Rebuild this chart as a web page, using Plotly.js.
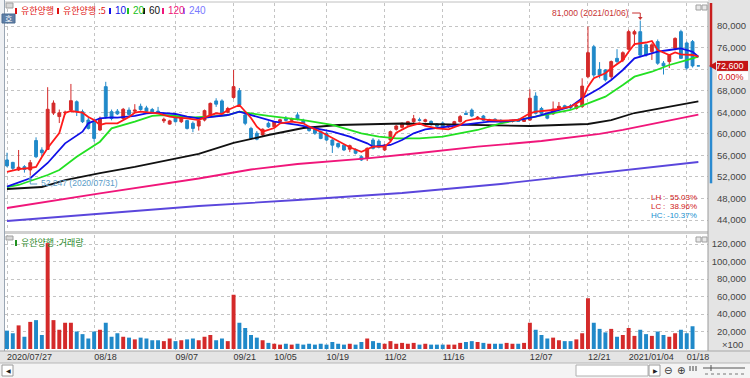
<!DOCTYPE html>
<html><head><meta charset="utf-8">
<script src="https://cdn.plot.ly/plotly-3.0.1.min.js"></script>
<style>html,body{margin:0;padding:0;background:#fff;}#chart{width:750px;height:378px;}</style>
</head><body><div id="chart"></div>
<script>
// ---------------- DATA ----------------
const tickIdx = [0,15,29,39,46,55,65,75,90,100,107,117];
const tickLabels = ['2020/07/27','08/18','09/07','09/21','10/05','10/19','11/02','11/16','12/07','12/21','2021/01/04','01/18'];

const open  = [55150,54700,53300,53900,53300,58750,57000,57100,63850,63200,
               63900,64400,65950,64100,62550,62250,60700,68750,64100,64200,
               62850,64400,64200,65100,64800,64500,64200,62400,61800,63000,
               62250,62450,61950,61450,62550,63500,66100,66100,64000,66750,
               68000,63500,61000,60100,59800,61950,61300,62300,62800,62500,
               63500,62500,61200,60800,60400,60100,58850,58200,57900,57150,
               57100,55750,55450,58850,58650,57000,58850,60850,61200,61650,
               62250,62600,62300,62300,61800,62000,61300,61600,62250,63800,
               64400,62800,63300,62400,62700,62500,62200,62300,62600,62300,
               62550,67000,64700,63500,63700,64800,65200,65200,64700,65050,
               70600,76150,71950,71850,70600,74000,73700,75700,78500,78950,
               76500,75250,77100,73100,73400,75850,78950,76850,77100,72600];
const high  = [56500,54800,57000,54200,55150,59350,57500,68650,66200,64500,
               64300,69250,66200,64500,63000,62500,63200,69650,64500,64600,
               64800,64900,65500,65600,65200,64800,65000,63000,62600,63400,
               63100,62600,62300,62600,64500,65800,66600,66400,65000,71850,
               68500,64000,61300,60500,61000,62300,62400,62800,63300,63000,
               64000,62800,61500,61000,60600,60300,59000,58400,58100,58000,
               57300,56000,57500,59200,59000,58100,60600,61600,62100,62400,
               63500,63000,62800,62500,62000,62300,61800,62400,63500,64300,
               64700,63300,63500,62800,62900,62700,62500,62600,62900,62800,
               68250,67700,65000,63700,66000,65900,65400,65500,65800,70300,
               79900,76500,73300,72000,73600,75700,75300,79300,79300,81000,
               76700,76800,77500,73500,74700,77900,79300,77100,77400,72600];
const low   = [53800,53300,53100,52800,52247,55500,55800,57000,63500,62000,
               63500,64000,63300,62000,60800,58550,60500,62800,62500,63500,
               62600,63400,64000,64300,64000,63800,63900,62000,61700,62100,
               62000,60800,60300,60600,62300,63300,65000,63600,63800,66500,
               65100,61600,58900,58800,59400,61100,61100,61900,62300,62300,
               62500,61800,60400,59800,59000,58700,56450,57300,56800,56600,
               56200,54950,54950,57100,57300,56800,58700,60600,61000,61500,
               62000,62300,62100,61500,61200,61000,61100,61500,62100,63500,
               63100,62600,62300,62200,62300,62100,62000,62100,62200,62200,
               62400,63600,63600,62700,63500,64300,64700,64600,64500,64800,
               70300,70500,70300,69700,70200,73000,73300,75500,76300,74200,
               74300,73700,72800,71000,72200,75500,73900,71900,72300,72600];
const close = [54050,53600,53800,53400,54650,55750,56500,64550,65700,63900,
               64000,66150,64100,62250,61000,59150,62850,63200,62850,63700,
               64550,63600,64400,64500,64200,64000,64100,62700,62400,62250,
               63000,61000,61000,62400,64300,65650,65500,63850,64700,68750,
               65350,61950,59150,59000,60850,61300,62200,62600,62500,62800,
               62700,62000,60600,60100,59150,58850,57900,57600,57000,57800,
               56400,55150,57300,57300,57500,57900,60400,61450,61950,62250,
               62800,62500,62600,61700,61400,61300,61600,62250,63200,63600,
               63300,63100,62500,62600,62400,62200,62300,62400,62300,62600,
               66600,63800,63800,62900,64600,65100,64900,64800,65300,68850,
               75050,70900,70900,70000,73400,73400,75050,78950,78950,74600,
               74600,76500,73100,72600,74600,77700,74000,72200,72600,72600];
const volume = [21000,18000,27000,14000,31000,33000,16000,121000,33000,22000,
                30000,30000,20000,17000,12000,20000,22000,30000,14000,18000,
                14000,13000,11000,13000,12000,10000,10000,9000,12000,9000,
                10000,11000,12000,10000,14000,16000,10000,12000,9000,62000,
                30000,24000,16000,13000,10000,7000,6000,5000,6000,5000,
                6000,5000,6000,5000,6000,5000,8000,6000,5000,6000,
                5000,8000,12000,9000,7000,6000,9000,6000,7000,6000,
                7000,5000,6000,5000,5000,5000,5000,5000,7000,8000,
                9000,8000,7000,6000,6000,6000,7000,6000,6000,7000,
                30000,22000,16000,12000,13000,10000,9000,9000,11000,18000,
                58000,30000,23000,19000,23000,14000,16000,24000,15000,22000,
                17000,15000,20000,16000,14000,18000,22000,18000,26000,0];

// moving averages (candle index, price)
const ma5x = [0,2,4,5,6,7,9,10,11,13,14,15,16,17,19,21,22,23,26,28,29,31,33,34,36,37,38,40,42,43,44,46,47,49,51,52,54,56,58,59,61,62,63,65,66,67,69,71,72,74,76,78,79,81,83,85,88,90,91,94,97,99,100,101,103,104,106,107,108,110,111,112,114,115,116,118,119];
const ma5  = [52920,53470,53660,53850,55700,57370,60150,63860,64230,63920,63120,62560,61640,61950,61950,63120,63920,64100,63810,63180,63060,62880,62560,63060,63810,63680,64420,65350,62930,61320,60390,61080,61950,62250,61950,61320,60390,59170,58110,57500,56680,57130,57610,57610,58540,60210,61320,61950,61450,61020,60840,61640,62430,62880,62560,62430,62560,63810,64100,64420,65030,66270,68740,70300,71230,72150,73690,75230,76660,76940,77220,75550,74620,75090,74750,74620,74300];
const ma10x = [0,4,7,10,13,14,16,18,19,22,24,26,29,31,33,35,38,40,43,46,50,53,56,59,62,63,66,68,70,72,75,78,81,83,85,88,91,94,97,99,102,104,106,108,110,112,114,116,118,119];
const ma10  = [50200,51750,54590,58240,60390,61950,62880,63060,62990,63310,63810,63920,63680,63180,62880,63180,63490,64100,63180,62250,61640,61020,60390,59470,58240,57610,57930,58850,60100,60840,61210,61640,62060,62250,62250,62560,63180,64100,65030,66590,68440,69980,71840,74010,74620,75230,75550,75860,75230,74300];
const ma20x = [0,2,4,7,9,12,16,18,22,25,27,29,32,35,38,40,45,51,56,61,64,67,71,75,78,81,85,91,97,100,103,106,108,111,114,117,119];
const ma20  = [50130,50510,51250,52360,53290,55760,58540,61020,62250,63310,63490,63310,63060,63180,63490,64100,63310,62560,61640,60100,59470,59170,59170,59470,60100,60710,61950,63180,64420,65660,66890,69060,70600,71520,72770,73690,74310];
const ma60x = [0,6,10,16,22,28,33,39,45,51,57,68,80,90,100,104,108,114,119];
const ma60  = [49760,50130,51430,52730,53850,55140,56260,58300,59780,61080,61640,61910,61730,61450,61820,62560,63860,64980,66000];
const ma120x = [0,16,33,42,50,62,71,81,92,102,106,111,119];
const ma120  = [46240,48970,51710,53380,54400,55460,56440,57610,58670,59970,60710,61820,63580];
const ma240x = [0,16,33,50,68,85,102,119];
const ma240  = [43830,45130,46610,47720,49020,50690,52730,54770];

const yearHighLabel = '81,000 (2021/01/06)', yearHighIdx = 109;
const yearLowLabel = '52,247 (2020/07/31)', yearLowIdx = 4;
const statNames = ['LH','LC','HC'];
const statValues = ['55.03%','38.96%','-10.37%'];
const changeText = '0.00%';
const priceTicks = [44000,48000,52000,56000,60000,64000,68000,72000,76000,80000];
const volTicks = [20000,40000,60000,80000,100000,120000];
const legendNames = ['유한양행','유한양행 :5','10','20','60','120','240'];
const volLegend = '유한양행 :거래량';

// ---------------- STYLE / GEOMETRY ----------------
const W=750, H=378, L=5, R=0, T=3, B=28;
const PW=W-L-R, PH=H-T-B;
const xp = px => (px-L)/PW;
const yp = py => (H-B-py)/PH;
const SANS = '"Liberation Sans",Arial,sans-serif';
const KR = '"Noto Sans CJK KR","Noto Sans CJK SC",sans-serif';
const RED='#d42a2a', BLUE='#2089c9';
const C5='#ff1a1a', C10='#1010e8', C20='#22e022', C60='#111111', C120='#f0167a', C240='#5a46dc';
const fmt = v => v.toLocaleString('en-US');

const idx = close.map((_,i)=>i);
const lastClose = close[close.length-1];
const lowerLimit = Math.round(lastClose*0.7);

const traces = [];
function ma(x,y,c){ traces.push({type:'scatter',mode:'lines',x:x,y:y,line:{color:c,width:1.8},hoverinfo:'skip',showlegend:false}); }
ma(ma240x,ma240,C240); ma(ma120x,ma120,C120); ma(ma60x,ma60,C60);
traces.push({type:'candlestick',x:idx,open:open,high:high,low:low,close:close,
  increasing:{line:{color:RED,width:1},fillcolor:RED},
  decreasing:{line:{color:BLUE,width:1},fillcolor:BLUE},
  whiskerwidth:0,hoverinfo:'skip',showlegend:false});
ma(ma20x,ma20,C20); ma(ma10x,ma10,C10); ma(ma5x,ma5,C5);
traces.push({type:'bar',x:idx,y:volume,yaxis:'y2',width:0.68,
  marker:{color:close.map((c,i)=>c>open[i]?RED:BLUE),line:{width:0}},hoverinfo:'skip',showlegend:false});

const xd1 = 703/PW;
const shapes=[], ann=[];
function rect(x0,y0,x1,y1,fill,lc,lw,layer){shapes.push({type:'rect',xref:'paper',yref:'paper',x0:xp(x0),x1:xp(x1),y0:yp(y1),y1:yp(y0),fillcolor:fill,line:{color:lc||fill,width:lw||0},layer:layer||'above'});}
function line(x0,y0,x1,y1,c,w,dash){shapes.push({type:'line',xref:'paper',yref:'paper',x0:xp(x0),x1:xp(x1),y0:yp(y0),y1:yp(y1),line:{color:c,width:w||1,dash:dash||'solid'},layer:'above'});}
function text(x,y,t,c,size,anchor,fam){ann.push({xref:'paper',yref:'paper',x:xp(x),y:yp(y),text:t,showarrow:false,xanchor:anchor||'left',yanchor:'middle',font:{family:fam||SANS,size:size||10,color:c}});}

// background strips
rect(708,0,750,351,'#e4e4e4',null,0,'below');
rect(0,351,750,363,'#e4e4e4',null,0,'below');
rect(0,363,750,378,'#f4f4f4',null,0,'below');
rect(0,0,5,351,'#eef0f3',null,0,'below');
line(4.5,0,4.5,351,'#9aa6b4',1);
line(5,2,708,2,'#c0c0c0',1);
rect(5,231,708,234,'#d0d0d0');
line(708,2,708,351,'#9a9a9a',1);
line(0,351,750,351,'#a8a8a8',1);
line(0,363,750,363,'#b8b8b8',1);
// small window icons
rect(6,3,13,8,'#d8d8d8','#a0a0a0',1); rect(6,236,13,240,'#d8d8d8','#a0a0a0',1);
rect(696,5,701,10,'#e8e8e8','#a0a0a0',1); rect(702,5,707,10,'#e8e8e8','#a0a0a0',1);
rect(696,237,701,242,'#e8e8e8','#a0a0a0',1); rect(702,237,707,242,'#e8e8e8','#a0a0a0',1);
// "호" button
rect(2,14,15,23,'#5f80a8','#4a6a90',1);
text(8.5,18.5,'호','#ffffff',8,'center',KR);

// legend
const legColors=['#e01010','#e01010',C10,'#20c020',C60,C120,'#7a7aff'];
const legX=[15,57,109,127,143,162,183];
legendNames.forEach((n,i)=>{ rect(legX[i],8,legX[i]+2,14,legColors[i]); text(legX[i]+4,11,n,legColors[i],i<2?9:10,'left',i<2?KR:SANS); });
rect(15,240,17,246,'#209020'); text(19,243,volLegend,'#2a8a2a',9,'left',KR);

// right axis markers: upper / lower price limit bars
shapes.push({type:'line',xref:'paper',yref:'y',x0:xp(711),x1:xp(711),y0:lastClose,y1:84267,line:{color:'#c81e1e',width:2.5},layer:'above'});
shapes.push({type:'line',xref:'paper',yref:'y',x0:xp(711),x1:xp(711),y0:lowerLimit,y1:lastClose,line:{color:'#2a8ad0',width:2.5},layer:'above'});
// current price tag (covers the tick label beneath it)
const yTag = 26 + (80000-lastClose)/185.5;
rect(717,yTag-5,748,yTag+5,'#c41414');
text(746,yTag,fmt(lastClose),'#ffffff',9,'right');
rect(717,yTag+5.5,748,yTag+14,'#ffffff');
text(746,yTag+11,changeText,'#d01010',9,'right');
shapes.push({type:'path',xref:'paper',yref:'paper',path:`M ${xp(709)} ${yp(yTag)} L ${xp(716)} ${yp(yTag-4)} L ${xp(716)} ${yp(yTag+4)} Z`,fillcolor:'#c41414',line:{width:0},layer:'above'});

// high / low annotations
ann.push({xref:'x',yref:'paper',x:yearHighIdx-1.6,y:yp(13),text:yearHighLabel,showarrow:false,xanchor:'right',yanchor:'middle',font:{family:SANS,size:8.5,color:'#c83232'}});
shapes.push({type:'line',xref:'x',yref:'paper',x0:yearHighIdx-1.4,x1:yearHighIdx,y0:yp(13),y1:yp(13),line:{color:'#c83232',width:1},layer:'above'});
shapes.push({type:'line',xref:'x',yref:'paper',x0:yearHighIdx,x1:yearHighIdx,y0:yp(13),y1:yp(18),line:{color:'#c83232',width:1},layer:'above'});
shapes.push({type:'path',xref:'paper',yref:'paper',path:`M ${xp(638)} ${yp(17)} L ${xp(642.6)} ${yp(17)} L ${xp(640.3)} ${yp(20)} Z`,fillcolor:'#c83232',line:{width:0},layer:'above'});
ann.push({xref:'x',yref:'paper',x:yearLowIdx+1.5,y:yp(183),text:yearLowLabel,showarrow:false,xanchor:'left',yanchor:'middle',font:{family:SANS,size:8.5,color:'#5a9cc8'}});
shapes.push({type:'line',xref:'x',yref:'paper',x0:yearLowIdx,x1:yearLowIdx,y0:yp(178),y1:yp(184),line:{color:'#5a9cc8',width:1},layer:'above'});
shapes.push({type:'line',xref:'x',yref:'paper',x0:yearLowIdx,x1:yearLowIdx+1.2,y0:yp(184),y1:yp(184),line:{color:'#5a9cc8',width:1},layer:'above'});
shapes.push({type:'path',xref:'paper',yref:'paper',path:`M ${xp(27.8)} ${yp(180)} L ${xp(32.4)} ${yp(180)} L ${xp(30.1)} ${yp(177)} Z`,fillcolor:'#5a9cc8',line:{width:0},layer:'above'});

// LH / LC / HC
const statColors=['#d02020','#d02020','#2090d0'];
statNames.forEach((n,i)=>{ const y=197+i*9; text(649,y,n,statColors[i],8,'left'); text(661,y,':',statColors[i],8,'left'); text(699,y,statValues[i],statColors[i],8,'right'); });

text(745,344,'×100','#444',9.5,'right');

// bottom scroll bar
rect(2,365,13,376,'#ffffff','#9a9a9a',1); text(8,370.5,'◀','#222',6,'center','DejaVu Sans');
rect(576,365,648,376,'#ffffff','#b0b0b0',1);
rect(649,365,660,376,'#ffffff','#9a9a9a',1); text(655,370.5,'▶','#222',6,'center','DejaVu Sans');
text(668,370.5,'⊖','#333',10,'center','DejaVu Sans');
text(681,370.5,'⊕','#333',10,'center','DejaVu Sans');
line(690,366,690,371,'#444',1); line(693,366,693,371,'#444',1); line(696,366,696,371,'#444',1);
line(703,368,745,368,'#555',1); line(711,365,711,371,'#555',1);
line(705,374,745,374,'#777',1,'dot');

// tick labels hidden where the current-price tag covers them
const priceTickText = priceTicks.map(v => Math.abs(v-lastClose) < 1500 ? '' : fmt(v));

const layout = {
  width:W, height:H, margin:{l:L,r:R,t:T,b:B,pad:0},
  paper_bgcolor:'#ffffff', plot_bgcolor:'#ffffff', showlegend:false,
  font:{family:SANS,size:10,color:'#444'},
  xaxis:{domain:[0,xd1], range:[-0.344,120.66], anchor:'y2', tickvals:tickIdx, ticktext:tickLabels,
    tickangle:0, ticklabelposition:'outside right', ticks:'', showline:false, zeroline:false,
    showgrid:true, gridcolor:'#c4c4c4', griddash:'dot', gridwidth:1,
    tickfont:{family:SANS,size:9,color:'#333'}, rangeslider:{visible:false}, fixedrange:true},
  yaxis:{domain:[yp(232),yp(3)], range:[41787,84267], anchor:'free', position:xp(746), side:'left',
    tickvals:priceTicks, ticktext:priceTickText, ticks:'', showline:false, zeroline:false,
    showgrid:true, gridcolor:'#c4c4c4', griddash:'dot', tickfont:{family:SANS,size:9.5,color:'#444'}},
  yaxis2:{domain:[0,yp(235)], range:[-1143,130290], anchor:'free', position:xp(746), side:'left',
    tickvals:volTicks, ticktext:volTicks.map(fmt), ticks:'', showline:false, zeroline:false,
    showgrid:true, gridcolor:'#c4c4c4', griddash:'dot', tickfont:{family:SANS,size:9.5,color:'#444'}},
  shapes:shapes, annotations:ann, bargap:0.3
};
Plotly.newPlot('chart', traces, layout, {staticPlot:true, displayModeBar:false});
</script></body></html>
